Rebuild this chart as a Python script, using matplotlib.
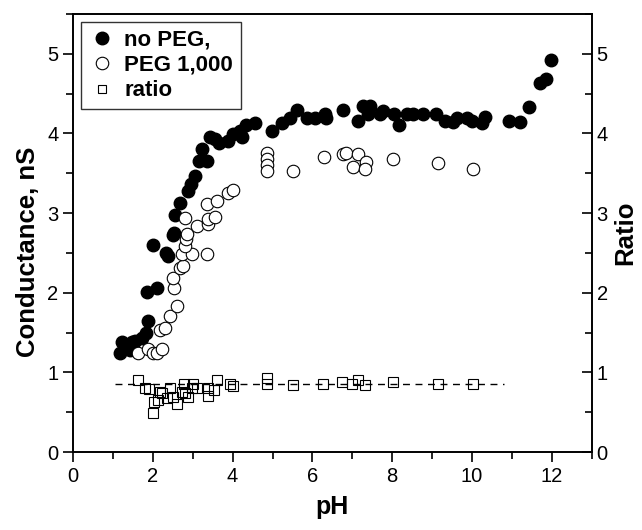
import numpy as np
import matplotlib.pyplot as plt
from matplotlib.ticker import MultipleLocator

plt.rcParams['font.family'] = ['Liberation Sans', 'DejaVu Sans']

# no PEG (filled circles)
ph_nopeg = [1.18, 1.23, 1.43, 1.48, 1.55, 1.73, 1.83, 1.88, 1.85, 2.11, 2.0, 2.33, 2.38,
            2.51, 2.53, 2.56, 2.68, 2.88, 2.96, 3.06, 3.16, 3.36, 3.23, 3.43, 3.56, 3.66,
            3.88, 4.01, 4.19, 4.24, 4.34, 4.56, 4.99, 5.24, 5.44, 5.61, 5.86, 6.07, 6.32,
            6.34, 6.77, 7.14, 7.27, 7.44, 7.39, 7.69, 7.77, 8.05, 8.17, 8.37, 8.52, 8.77,
            9.1, 9.32, 9.52, 9.62, 9.87, 10.0, 10.25, 10.33, 10.93, 11.2, 11.43, 11.7,
            11.85, 11.98]
g_nopeg = [1.25, 1.38, 1.28, 1.38, 1.4, 1.43, 1.5, 1.64, 2.01, 2.06, 2.6, 2.5, 2.46,
           2.73, 2.75, 2.98, 3.13, 3.28, 3.36, 3.46, 3.66, 3.65, 3.8, 3.96, 3.93, 3.88,
           3.9, 3.99, 4.03, 3.96, 4.11, 4.13, 4.03, 4.13, 4.19, 4.3, 4.19, 4.19, 4.25,
           4.19, 4.29, 4.16, 4.35, 4.35, 4.25, 4.24, 4.28, 4.24, 4.11, 4.24, 4.24, 4.24,
           4.24, 4.16, 4.15, 4.19, 4.19, 4.16, 4.13, 4.21, 4.16, 4.14, 4.33, 4.63,
           4.69, 4.92]

# PEG 1,000 (open circles)
ph_peg = [1.63, 1.88, 2.0, 2.11, 2.23, 2.18, 2.31, 2.43, 2.61, 2.53, 2.51, 2.68, 2.76,
          2.73, 2.98, 3.36, 2.81, 2.83, 2.86, 2.81, 3.11, 3.38, 3.38, 3.56, 3.36, 3.61,
          3.88, 4.01, 4.86, 4.86, 4.86, 4.86, 5.51, 6.29, 6.77, 6.84, 7.14, 7.02, 7.34,
          7.32, 8.02, 9.15, 10.03]
g_peg = [1.24, 1.3, 1.24, 1.25, 1.3, 1.53, 1.56, 1.71, 1.84, 2.06, 2.18, 2.31, 2.34,
         2.49, 2.49, 2.49, 2.59, 2.68, 2.74, 2.94, 2.84, 2.86, 2.93, 2.95, 3.11, 3.15,
         3.25, 3.29, 3.75, 3.68, 3.6, 3.53, 3.53, 3.7, 3.74, 3.75, 3.74, 3.58, 3.64,
         3.56, 3.68, 3.63, 3.56]

# ratio (open squares, right axis)
ph_ratio = [1.63, 1.8, 1.9, 2.0, 2.03, 2.13, 2.18, 2.23, 2.36, 2.43, 2.51, 2.61, 2.73,
            2.78, 2.81, 2.88, 2.98, 3.01, 3.11, 3.38, 3.38, 3.53, 3.61, 3.93, 4.01, 4.86,
            4.86, 5.51, 6.27, 6.74, 6.99, 7.14, 7.32, 8.02, 9.15, 10.03]
ratio = [0.91, 0.8, 0.79, 0.49, 0.63, 0.65, 0.75, 0.74, 0.68, 0.81, 0.69, 0.61, 0.75,
         0.86, 0.74, 0.69, 0.81, 0.86, 0.81, 0.81, 0.71, 0.78, 0.9, 0.86, 0.83, 0.93,
         0.86, 0.84, 0.86, 0.88, 0.86, 0.91, 0.84, 0.88, 0.86, 0.85]
fit_x = [1.05, 10.8]
fit_y = [0.86, 0.86]

fig = plt.figure(figsize=(6.42, 5.30), dpi=100)
ax = fig.add_axes([0.1137, 0.147, 0.808, 0.8266])
ax2 = ax.twinx()

ax.plot(ph_nopeg, g_nopeg, 'o', color='black', markersize=9, label='no PEG,')
ax.plot(ph_peg, g_peg, 'o', mfc='white', mec='black', mew=0.8, markersize=9,
        label='PEG 1,000')
ax2.plot(ph_ratio, ratio, 's', mfc='none', mec='black', mew=0.8, markersize=7.5)
ax2.plot(fit_x, fit_y, '--', color='black', lw=1.0, dashes=(5, 4))
ax.plot([], [], 's', mfc='white', mec='black', mew=0.8, markersize=6, label='ratio')

for a in (ax, ax2):
    a.set_xlim(0, 13)
    a.set_ylim(0, 5.5)
    a.yaxis.set_major_locator(MultipleLocator(1))
    a.yaxis.set_minor_locator(MultipleLocator(0.5))
    for s in a.spines.values():
        s.set_linewidth(1.2)

ax.xaxis.set_major_locator(MultipleLocator(2))
ax.xaxis.set_minor_locator(MultipleLocator(1))
ax.tick_params(which='both', direction='out', width=1.2, labelsize=14.5, top=False)
ax.tick_params(which='major', length=7)
ax.tick_params(which='minor', length=5)
ax2.tick_params(which='both', direction='in', width=1.2, labelsize=14.5)
ax2.tick_params(which='major', length=7)
ax2.tick_params(which='minor', length=5)

ax.set_xlabel('pH', fontsize=18, fontweight='bold', labelpad=7)
ax.set_ylabel('Conductance, nS', fontsize=18.5, fontweight='bold')
ax.yaxis.set_label_coords(-0.064, 0.457)
ax2.set_ylabel('Ratio', fontsize=18.5, fontweight='bold', labelpad=4)

leg = ax.legend(loc='upper left', fontsize=16, frameon=True, fancybox=False,
                edgecolor='black', handletextpad=0.4, borderaxespad=0.35,
                labelspacing=0.2, handlelength=1.2, borderpad=0.35)
leg.get_frame().set_linewidth(1.0)
for t in leg.get_texts():
    t.set_fontweight('bold')

fig.savefig('out.png', dpi=100)
